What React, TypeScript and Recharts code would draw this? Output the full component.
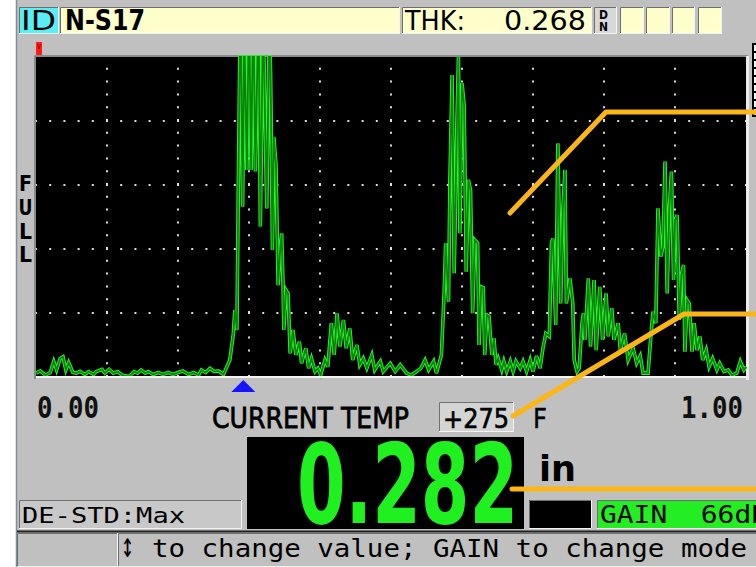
import React from 'react';
import {
  LineChart,
  Line,
  XAxis,
  YAxis,
  CartesianGrid,
  ReferenceLine,
  ReferenceDot,
} from 'recharts';

// A-scan trace: [depth (in), amplitude (% full screen)]
const leadNoise = [
  [0.0, 1.2], [0.006, 1.9], [0.013, 0.6], [0.02, 1.4], [0.025, 4.9], [0.029, 2.2],
  [0.034, 5.8], [0.038, 6.3], [0.042, 2.2], [0.046, 4.5], [0.052, 1.4], [0.057, 1.2],
  [0.062, 1.8], [0.069, 0.8], [0.074, 1.7], [0.081, 0.8], [0.085, 1.7], [0.093, 2.4],
  [0.097, 1.2], [0.103, 2.4], [0.109, 1.2], [0.115, 1.7], [0.121, 0.6], [0.127, 0.3],
  [0.132, 0.3], [0.138, 1.7], [0.143, 1.2], [0.148, 2.2], [0.154, 1.2], [0.158, 1.7],
  [0.165, 0.8], [0.172, 1.4], [0.179, 0.8], [0.186, 1.4], [0.193, 0.8], [0.2, 1.4],
  [0.207, 1.9], [0.215, 0.8], [0.222, 1.4], [0.229, 0.6], [0.233, 2.2], [0.239, 1.4],
  [0.245, 2.7], [0.251, 1.7], [0.257, 1.9], [0.264, 0.8],
];

const interfaceEcho = [
  [0.273, 5.3], [0.278, 13.6], [0.28, 20.9], [0.283, 14.7], [0.285, 60], [0.287, 100],
  [0.289, 100], [0.291, 53.2], [0.293, 100], [0.294, 100], [0.297, 64.7], [0.299, 100],
  [0.301, 100], [0.303, 64.7], [0.305, 100], [0.307, 100], [0.309, 64.2], [0.312, 100],
  [0.314, 100], [0.316, 47], [0.319, 100], [0.321, 100], [0.325, 52.7], [0.328, 100],
  [0.33, 100], [0.331, 84.5], [0.333, 39.7], [0.335, 75], [0.338, 66.3], [0.341, 28.7],
  [0.344, 40.2], [0.346, 44.9], [0.348, 28.2], [0.349, 14.7], [0.352, 27.2], [0.355, 26.1],
  [0.358, 7.4], [0.362, 14.7], [0.366, 6.9], [0.371, 11], [0.374, 4.3], [0.38, 9],
  [0.384, 2.7], [0.388, 5.8], [0.393, 1.7], [0.397, 2.7], [0.401, 0.6], [0.407, 5.3],
  [0.411, 3.2],
];

const ringing = [
  [0.416, 16.8], [0.42, 6.9], [0.424, 19.9], [0.428, 9.5], [0.433, 17.8], [0.437, 9],
  [0.442, 15.2], [0.446, 5.3], [0.452, 10], [0.456, 3.8], [0.461, 5.8], [0.466, 2.7],
  [0.473, 6.9], [0.477, 2.2], [0.485, 4.9], [0.489, 1.7], [0.499, 4.3], [0.506, 1.7],
  [0.513, 3.8], [0.522, 1.2], [0.529, 0.6], [0.536, 1.7], [0.542, 2.7], [0.548, 5.3],
  [0.553, 2.2], [0.56, 4.9], [0.564, 1.2], [0.571, 6.9],
];

const firstBackwall = [
  [0.575, 27.2], [0.577, 41.8], [0.581, 23.5], [0.583, 61.6], [0.586, 94.4], [0.589, 32.4],
  [0.593, 80.8], [0.595, 100], [0.597, 44.9], [0.6, 91.8], [0.603, 85], [0.606, 32.9],
  [0.609, 61.6], [0.612, 58.4], [0.615, 19.9], [0.618, 42.8], [0.622, 41.8], [0.624, 10],
  [0.627, 28.2], [0.63, 27.9], [0.632, 6.9], [0.635, 19.4], [0.638, 19], [0.642, 6.9],
  [0.645, 12.1], [0.648, 3.8], [0.651, 5.8], [0.656, 2.2], [0.659, 4.9], [0.663, 1.7],
  [0.668, 4.9], [0.672, 1.7], [0.676, 4.9], [0.682, 2.7], [0.686, 4.9], [0.691, 1.7],
  [0.696, 5.3], [0.7, 1.7], [0.705, 6.6], [0.71, 2.7], [0.714, 9],
];

const secondBackwall = [
  [0.718, 13.6], [0.723, 12.7], [0.726, 41.8], [0.728, 43.3], [0.732, 16.3], [0.735, 73],
  [0.739, 23], [0.742, 52.2], [0.745, 64.7], [0.747, 23], [0.752, 30.8], [0.756, 23],
  [0.758, 5.3], [0.762, 1.7], [0.765, 2.7], [0.769, 16.8], [0.771, 19.9], [0.773, 11.6],
  [0.778, 30.8], [0.781, 9.5], [0.786, 30.3], [0.789, 8.4], [0.794, 28.2], [0.798, 11.6],
  [0.803, 26.1], [0.806, 12.7], [0.811, 21.5], [0.814, 11.6], [0.82, 16.8], [0.823, 8.4],
  [0.829, 13.6], [0.834, 5.3], [0.841, 9], [0.846, 4.3], [0.851, 6.6], [0.855, 1.2],
  [0.862, 1.2],
];

const thirdBackwall = [
  [0.866, 12.7], [0.869, 20.4], [0.873, 16.8], [0.876, 52.7], [0.88, 37.6], [0.883, 40.7],
  [0.886, 67.3], [0.889, 26.1], [0.892, 52.7], [0.895, 64.2], [0.898, 30.3], [0.9, 49],
  [0.903, 50.6], [0.906, 17.8], [0.909, 31.9], [0.912, 35], [0.914, 7.9], [0.917, 24],
  [0.92, 23], [0.924, 7.9], [0.927, 16.8], [0.931, 8.4], [0.935, 12.7], [0.939, 5.3],
  [0.944, 8.4], [0.948, 3.2], [0.953, 5.8], [0.959, 2.2], [0.963, 4.3], [0.969, 1.7],
  [0.975, 2.2], [0.98, 0.6], [0.987, 1.2], [0.992, 4.9], [0.997, 2.2], [1.0, 3.2],
];

const depthTicks = [0, 1];
const depthDivisions = [0.1, 0.2, 0.3, 0.4, 0.5, 0.6, 0.7, 0.8, 0.9];
const ampDivisions = [20, 40, 60, 80];
const gateStart = 0.292;

const trace = [
  ...leadNoise,
  ...interfaceEcho,
  ...ringing,
  ...firstBackwall,
  ...secondBackwall,
  ...thirdBackwall,
].map(([depth, amp]) => ({ depth, amp }));

const GREY = '#c0c0c0';
const YELLOW = '#ffffcc';
const MONO = "'DejaVu Sans Mono', monospace";
const SANS = "'DejaVu Sans', sans-serif";

function Sunken({ x, y, w, h, fill }: any) {
  return (
    <g>
      <rect x={x} y={y} width={w} height={h} fill={fill} />
      <path d={`M${x + 0.5},${y + h} V${y + 0.5} H${x + w}`} stroke="#6e6e6e" fill="none" />
      <path d={`M${x + w - 0.5},${y} V${y + h - 0.5} H${x}`} stroke="#f4f4f4" fill="none" />
    </g>
  );
}

// text squeezed to the screen's pixel font: width via textLength, height via sy
function T({ x, y, len, size, sy = 1, weight = 'normal', family = SANS, fill = '#000', anchor = 'start', heavy = 0, children }: any) {
  return (
    <text
      x={0}
      y={0}
      transform={`translate(${x},${y}) scale(1,${sy})`}
      fontSize={size}
      fontFamily={family}
      fontWeight={weight}
      fill={fill}
      stroke={heavy ? fill : 'none'}
      strokeWidth={heavy}
      textAnchor={anchor}
      textLength={len}
      lengthAdjust="spacingAndGlyphs"
      style={{ whiteSpace: 'pre' }}
    >
      {children}
    </text>
  );
}

const DepthTick = (props: any) => {
  const { x, y, payload } = props;
  const last = payload.value === 1;
  return (
    <T x={last ? x - 3 : x + 1} y={y + 41} len={62} size={26} sy={1.16} weight="bold" family={MONO} fill="#111" anchor={last ? 'end' : 'start'}>
      {payload.value.toFixed(2)}
    </T>
  );
};

const GateMarker = (props: any) => {
  const { cx, cy } = props;
  return <path d={`M${cx - 12},${cy + 15} L${cx},${cy + 3} L${cx + 12},${cy + 15} Z`} fill="#1414ff" />;
};

function Panel() {
  return (
    <svg width={756} height={567} style={{ position: 'absolute', left: 0, top: 0 }}>
      <rect x={0} y={0} width={756} height={567} fill="#ffffff" />
      <rect x={17} y={0} width={739} height={567} fill={GREY} />
      <line x1={16.5} y1={0} x2={16.5} y2={567} stroke="#7d8ea0" strokeWidth={1.5} />

      {/* header */}
      <Sunken x={19} y={7} w={40} h={27} fill="#58eef6" />
      <T x={21} y={30} len={35} size={30} sy={0.9}>ID</T>
      <Sunken x={60} y={7} w={340} h={27} fill={YELLOW} />
      <T x={65} y={30} len={80} size={24} sy={1.15} weight="bold">N-S17</T>
      <Sunken x={402} y={7} w={190} h={27} fill={YELLOW} />
      <T x={405} y={30} len={60} size={25} sy={1.08}>THK:</T>
      <T x={504} y={30} len={82} size={28} sy={0.98}>0.268</T>
      <Sunken x={594} y={7} w={23} h={27} fill="#d8d8d8" />
      <T x={599} y={19} len={9} size={12} weight="bold">D</T>
      <T x={599} y={31} len={9} size={12} weight="bold">N</T>
      <Sunken x={620} y={7} w={24} h={27} fill={YELLOW} />
      <Sunken x={646} y={7} w={24} h={27} fill={YELLOW} />
      <Sunken x={672} y={7} w={23} h={27} fill={YELLOW} />
      <Sunken x={698} y={7} w={24} h={27} fill={YELLOW} />

      {/* plot frame */}
      <rect x={36} y={42} width={6} height={13} fill="#ff1a1a" />
      <path d="M37.5,44 L39,49 L40.5,44" stroke="#b00000" fill="none" strokeWidth={1} />
      <path d="M35,379 V56 H748" stroke="#7a7a7a" fill="none" strokeWidth={1.5} />
      <rect x={746} y={56} width={3} height={324} fill="#ececec" />
      <rect x={752} y={43} width={5} height={74} fill="#000" />
      {[0, 1, 2, 3, 4, 5, 6, 7, 8].map((i) => (
        <rect key={i} x={754} y={45 + i * 8} width={3} height={6} fill="#f4f4f4" />
      ))}
      <T x={25.5} y={191} len={13} size={22} weight="bold" anchor="middle">F</T>
      <T x={25.5} y={215} len={14} size={22} weight="bold" anchor="middle">U</T>
      <T x={25.5} y={239} len={13} size={22} weight="bold" anchor="middle">L</T>
      <T x={25.5} y={262} len={13} size={22} weight="bold" anchor="middle">L</T>

      {/* temperature */}
      <T x={212} y={428} len={197} size={25} sy={1.15} heavy={0.7}>CURRENT TEMP</T>
      <Sunken x={439} y={402} w={75} h={30} fill="#d4d4d4" />
      <T x={443} y={428} len={66} size={24} sy={1.14} heavy={0.6}>+275</T>
      <T x={533} y={428} len={14} size={24} sy={1.13} heavy={0.4}>F</T>

      {/* reading */}
      <rect x={247} y={437} width={277} height={92} fill="#000" />
      <T x={297} y={523} len={221} size={70} sy={1.57} weight="bold" fill="#20f020">0.282</T>
      <T x={539} y={481} len={37} size={35} weight="bold">in</T>

      {/* status row */}
      <Sunken x={19} y={500} w={223} h={29} fill="#c8c8c8" />
      <T x={22} y={523} len={163} size={27} sy={0.8} family={MONO}>DE-STD:Max</T>
      <Sunken x={529} y={500} w={63} h={29} fill="#000" />
      <Sunken x={597} y={500} w={170} h={29} fill="#22ee22" />
      <T x={600} y={523} len={168} size={27} sy={0.9} family={MONO}>GAIN  66dB</T>

      {/* hint bar */}
      <line x1={17} y1={531.5} x2={756} y2={531.5} stroke="#1e1e1e" strokeWidth={2} />
      <Sunken x={17} y={533} w={101} h={34} fill={GREY} />
      <Sunken x={118} y={533} w={640} h={34} fill={GREY} />
      <T x={121} y={557} len={13} size={24} sy={1.45} family={MONO}>↕</T>
      <T x={152} y={557} len={595} size={27} sy={0.9} family={MONO}>to change value; GAIN to change mode</T>
    </svg>
  );
}

function Callouts() {
  const orange = '#fbb516';
  return (
    <svg width={756} height={567} style={{ position: 'absolute', left: 0, top: 0, pointerEvents: 'none' }}>
      <g stroke={orange} strokeWidth={5} fill="none" strokeLinecap="round" strokeLinejoin="round">
        <path d="M510,213 L606,112 L770,112" />
        <path d="M513,416 L684,314 L770,314" />
        <path d="M512,489 L770,489" />
      </g>
    </svg>
  );
}

export default function App() {
  return (
    <div style={{ position: 'absolute', left: 0, top: 0, width: 756, height: 567, overflow: 'hidden' }}>
      <Panel />
      <div style={{ position: 'absolute', left: 0, top: 0 }}>
        <LineChart
          width={756}
          height={567}
          data={trace}
          margin={{ top: 57, right: 10, left: 36, bottom: 160 }}
        >
          <CartesianGrid fill="#000" stroke="none" horizontal={false} vertical={false} />
          {depthDivisions.map((d) => (
            <ReferenceLine key={`v${d}`} x={d} stroke="#dcdcdc" strokeWidth={2} strokeDasharray="2 10.8" />
          ))}
          {ampDivisions.map((a) => (
            <ReferenceLine key={`h${a}`} y={a} stroke="#dcdcdc" strokeWidth={2} strokeDasharray="2 12.2" strokeDashoffset={1} />
          ))}
          <XAxis
            dataKey="depth"
            type="number"
            domain={[0, 1]}
            ticks={depthTicks}
            interval={0}
            tickLine={false}
            tickSize={0}
            tickMargin={0}
            height={30}
            axisLine={{ stroke: '#f4f4f4', strokeWidth: 2 }}
            tick={<DepthTick />}
          />
          <YAxis hide width={0} domain={[0, 100]} />
          <Line
            dataKey="amp"
            type="linear"
            stroke="#2cf62c"
            strokeWidth={3.6}
            dot={false}
            isAnimationActive={false}
          />
          <Line
            dataKey="amp"
            type="linear"
            stroke="#0a840a"
            strokeWidth={1.8}
            dot={false}
            isAnimationActive={false}
          />
          <ReferenceDot x={gateStart} y={0} r={0} ifOverflow="visible" shape={<GateMarker />} />
        </LineChart>
      </div>
      <Callouts />
    </div>
  );
}
